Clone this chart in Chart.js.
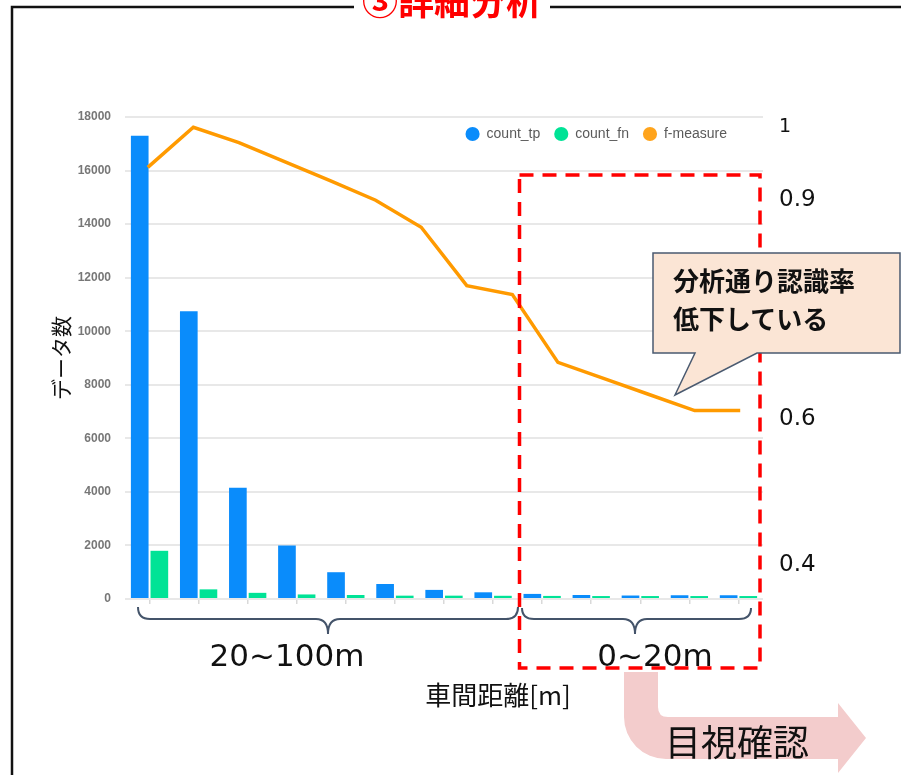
<!DOCTYPE html>
<html lang="ja">
<head>
<meta charset="utf-8">
<title>③詳細分析</title>
<script src="https://cdn.jsdelivr.net/npm/chart.js@4.4.1/dist/chart.umd.min.js"></script>
<style>
  html, body { margin: 0; padding: 0; background: #fff; }
  #stage { position: relative; width: 901px; height: 775px; overflow: hidden; }
  #chartBox { position: absolute; left: 0; top: 0; width: 901px; height: 775px; }
  #notes { position: absolute; left: 0; top: 0; pointer-events: none; }
  .jp { font-family: "Noto Sans CJK JP", sans-serif; }
  .num { font-family: "DejaVu Sans", sans-serif; }
</style>
</head>
<body>
<div id="stage">
  <div id="chartBox"><canvas id="chart"></canvas></div>

  <svg id="notes" width="901" height="775" viewBox="0 0 901 775">
    <!-- slide frame and heading -->
    <rect x="12" y="7" width="1000" height="1000" fill="none" stroke="#111" stroke-width="2.5"/>
    <rect x="354" y="0" width="196" height="22" fill="#fff"/>
    <text class="jp" x="452" y="15" text-anchor="middle" font-size="36" font-weight="bold" fill="#ff0000">③詳細分析</text>

    <!-- near range highlight -->
    <rect x="519.5" y="175" width="240.5" height="493" fill="none" stroke="#ff0000" stroke-width="3.5" stroke-dasharray="14 9"/>

    <!-- braces under the axis -->
    <path d="M138 607 Q138 619 150 619 L316 619 Q328 619 328 634 Q328 619 340 619 L506 619 Q518 619 518 607"
          fill="none" stroke="#44546a" stroke-width="2"/>
    <path d="M522 608 Q522 619 534 619 L623 619 Q635 619 635 634 Q635 619 647 619 L739 619 Q751 619 751 608"
          fill="none" stroke="#44546a" stroke-width="2"/>
    <text class="num" x="287" y="666" text-anchor="middle" font-size="31" fill="#111">20~100m</text>
    <text class="num" x="655" y="666" text-anchor="middle" font-size="31" fill="#111">0~20m</text>

    <text class="jp" x="498" y="705" text-anchor="middle" font-size="26" fill="#111">車間距離[m]</text>

    <!-- callout -->
    <path d="M653 253 H900 V353 H757 L675 395 L695 353 H653 Z" fill="#fbe5d5" stroke="#4a5a70" stroke-width="1.5"/>
    <text class="jp" x="673" y="291" font-size="26" font-weight="bold" fill="#111">分析通り認識率</text>
    <text class="jp" x="673" y="329" font-size="26" font-weight="bold" fill="#111">低下している</text>

    <!-- bent arrow -->
    <path d="M624 672 H658 V707 Q658 717 668 717 H838 V703 L866 738 L838 773 V759 H666 A42 42 0 0 1 624 717 Z" fill="#f3cccc"/>
    <text class="jp" x="665" y="756" font-size="36" fill="#111">目視確認</text>
  </svg>
</div>

<script>
// distance bins, far to near
const distanceBins = ['90~100', '80~90', '70~80', '60~70', '50~60', '40~50', '30~40', '20~30',
  '16~20', '12~16', '8~12', '4~8', '0~4']
const countTp = [17300, 10750, 4150, 2000, 1000, 560, 340, 250, 190, 150, 130, 140, 140]
const countFn = [1800, 360, 230, 170, 150, 125, 125, 120, 115, 110, 110, 110, 110]

// f-measure line has its own 14 points
const fPoints = ['1', '2', '3', '4', '5', '6', '7', '8', '9', '10', '11', '12', '13', '14']
const fMeasure = [0.945, 1.0, 0.979, 0.953, 0.927, 0.900, 0.863, 0.783, 0.771, 0.678, 0.656, 0.634, 0.612, 0.612]

const countMax = 18000
const countStep = 2000
const rateTicks = [1, 0.9, 0.6, 0.4]

Chart.defaults.font.family = "'Liberation Sans', Arial, sans-serif"

// newer Chart.js splits bar groups per x axis id; the line sits on its own
// hidden x axis, so keep the bars grouped as if there were only one
const barProto = Chart.BarController && Chart.BarController.prototype
if (barProto && typeof barProto._getAxisCount === 'function') {
  barProto._getAxisCount = function () { return 1 }
}

// legend is laid out on top, then moved down into the plot
const legendNudge = {
  id: 'legendNudge',
  afterLayout(chart) {
    const lg = chart.legend
    const area = chart.chartArea
    if (!lg) return
    const h = lg.height
    lg.left = area.left
    lg.right = area.right - 22
    lg.top = area.top - 4
    lg.bottom = lg.top + h
  }
}

new Chart(document.getElementById('chart'), {
  type: 'bar',
  data: {
    labels: distanceBins,
    datasets: [
      { label: 'count_tp', data: countTp, backgroundColor: '#0a8cfb', order: 1 },
      { label: 'count_fn', data: countFn, backgroundColor: '#00e396', order: 1 },
      {
        type: 'line',
        label: 'f-measure',
        data: fMeasure,
        xAxisID: 'x2',
        yAxisID: 'y1',
        borderColor: '#ff9a00',
        backgroundColor: '#ffa41c',
        borderWidth: 3.5,
        pointRadius: 0,
        tension: 0,
        order: 0
      }
    ]
  },
  options: {
    responsive: true,
    maintainAspectRatio: false,
    animation: false,
    devicePixelRatio: 1,
    layout: { padding: { left: 48, right: 0, top: 79, bottom: 170 } },
    plugins: {
      tooltip: { enabled: false },
      legend: {
        position: 'top',
        align: 'end',
        labels: {
          usePointStyle: true,
          pointStyle: 'circle',
          boxWidth: 14,
          boxHeight: 10,
          padding: 14,
          color: '#5a5a5a',
          font: { size: 14 },
          sort: (a, b) => a.datasetIndex - b.datasetIndex,
          generateLabels: chart =>
            Chart.defaults.plugins.legend.labels.generateLabels(chart).map(item => ({
              ...item,
              strokeStyle: item.fillStyle,
              lineWidth: 0
            }))
        }
      }
    },
    scales: {
      x: {
        offset: true,
        grid: { offset: false, drawOnChartArea: false, tickLength: 5, color: '#d9d9d9', lineWidth: 1.5 },
        border: { display: false },
        ticks: { display: false },
        afterFit: scale => { scale.height = 6 }
      },
      x2: {
        type: 'category',
        labels: fPoints,
        offset: true,
        display: false
      },
      y: {
        position: 'left',
        min: 0,
        max: countMax,
        grid: { color: '#e8e8e8', lineWidth: 2, drawTicks: false },
        border: { display: false },
        ticks: {
          stepSize: countStep,
          padding: 14,
          color: '#777',
          callback: v => String(v),
          font: { size: 12, weight: 'bold' }
        },
        title: {
          display: true,
          text: 'データ数',
          color: '#111',
          padding: { top: 0, bottom: 0 },
          font: { family: "'Noto Sans CJK JP', sans-serif", size: 21 }
        },
        afterFit: scale => { scale.width = 77 }
      },
      y1: {
        position: 'right',
        min: 0.354,
        max: 1.014,
        grid: { display: false, drawTicks: false },
        border: { display: false },
        afterBuildTicks: scale => {
          scale.ticks = rateTicks.map(v => ({ value: v }))
        },
        ticks: {
          padding: 16,
          color: '#111',
          callback: v => String(v),
          font: ctx => ({
            family: "'DejaVu Sans', sans-serif",
            size: ctx.tick && ctx.tick.value === 1 ? 19 : 23
          })
        },
        afterFit: scale => { scale.width = 138 }
      }
    }
  },
  plugins: [legendNudge]
})
</script>
</body>
</html>
